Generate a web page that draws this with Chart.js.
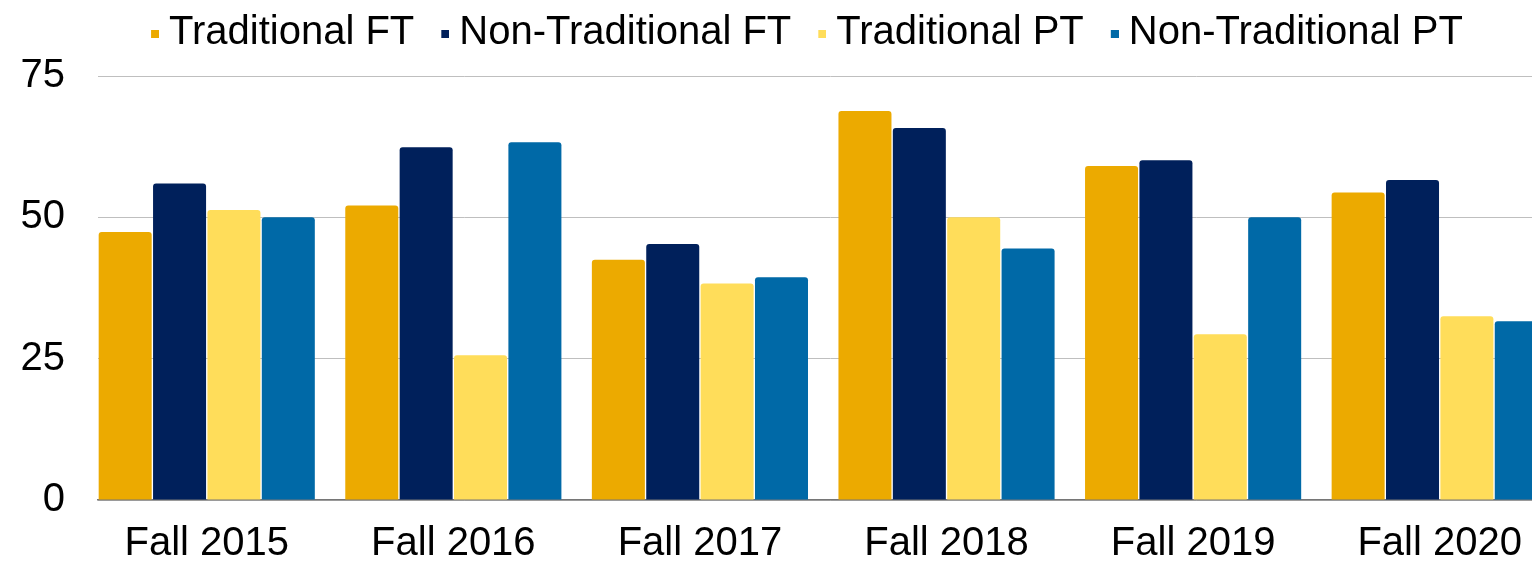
<!DOCTYPE html>
<html>
<head>
<meta charset="utf-8">
<script src="https://cdn.jsdelivr.net/npm/chart.js@4/dist/chart.umd.min.js"></script>
<style>
  html, body { margin: 0; padding: 0; background: #fff; overflow: hidden; }
  #wrap { width: 1600px; height: 565px; }
</style>
</head>
<body>
<div id="wrap"><canvas id="c" width="1600" height="565"></canvas></div>
<script>
const categories = ['Fall 2015', 'Fall 2016', 'Fall 2017', 'Fall 2018', 'Fall 2019', 'Fall 2020'];
const seriesNames = ['Traditional FT', 'Non-Traditional FT', 'Traditional PT', 'Non-Traditional PT'];
const traditionalFT = [47.4, 52.1, 42.5, 68.8, 59.1, 54.4];
const nonTraditionalFT = [56.0, 62.4, 45.3, 65.8, 60.1, 56.6];
const traditionalPT = [51.3, 25.6, 38.3, 50.0, 29.3, 32.5];
const nonTraditionalPT = [50.0, 63.3, 39.4, 44.5, 50.0, 31.6];
const yTicks = [0, 25, 50, 75];

const colors = ['#ECAA00', '#00205B', '#FFDD5A', '#0069A7'];
const FONT = '"Liberation Sans", Arial, Helvetica, sans-serif';

function markerImage(color) {
  const cv = document.createElement('canvas');
  cv.width = 32; cv.height = 10;
  const g = cv.getContext('2d');
  g.fillStyle = color;
  g.fillRect(24, 2, 8, 8);
  return cv;
}
const markers = colors.map(markerImage);

const values = [traditionalFT, nonTraditionalFT, traditionalPT, nonTraditionalPT];
const datasets = seriesNames.map((name, i) => ({
  label: name,
  data: values[i],
  backgroundColor: colors[i],
  borderWidth: 0,
  borderRadius: 3,
  barPercentage: 0.975,
  categoryPercentage: 0.882,
  xAxisID: 'x',
  yAxisID: 'y'
}));

new Chart(document.getElementById('c'), {
  type: 'bar',
  data: { labels: categories, datasets },
  options: {
    responsive: false,
    animation: false,
    layout: { padding: 0 },
    plugins: {
      tooltip: { enabled: false },
      legend: {
        position: 'top',
        align: 'center',
        labels: {
          usePointStyle: true,
          pointStyleWidth: 12,
          padding: 13,
          color: '#000',
          font: { family: FONT, size: 40 },
          generateLabels(chart) {
            const items = Chart.defaults.plugins.legend.labels.generateLabels(chart);
            items.forEach((it, i) => { it.pointStyle = markers[i]; });
            return items;
          }
        }
      }
    },
    scales: {
      x: {
        type: 'category',
        position: 'bottom',
        offset: true,
        grid: { display: false, drawTicks: false },
        border: { display: true, color: '#767676', width: 1.5 },
        ticks: {
          color: '#000',
          font: { family: FONT, size: 40 },
          padding: 20,
          maxRotation: 0,
          autoSkip: false
        },
        afterBuildTicks(s) {
          if (typeof s._startValue === 'number') {
            s._startValue += 0.059;
            s._valueRange -= 0.059;
          }
        },
        afterFit(s) { s.height = 65; }
      },
      xt: {
        type: 'linear',
        position: 'top',
        display: true,
        grid: { display: false, drawTicks: false },
        border: { display: false },
        ticks: { display: false },
        afterFit(s) { s.height = 13; }
      },
      y: {
        type: 'linear',
        position: 'left',
        min: 0,
        max: 75,
        afterBuildTicks(s) { s.ticks = yTicks.map(v => ({ value: v })); },
        grid: { color: '#BFBFBF', lineWidth: 1, drawTicks: false },
        border: { display: false },
        ticks: {
          color: '#000',
          font: { family: FONT, size: 40 },
          padding: 33
        },
        afterFit(s) { s.width = 98; }
      },
      yr: {
        type: 'linear',
        position: 'right',
        display: true,
        grid: { display: false, drawTicks: false },
        border: { display: false },
        ticks: { display: false },
        afterFit(s) { s.width = 37; }
      }
    }
  }
});
</script>
</body>
</html>
